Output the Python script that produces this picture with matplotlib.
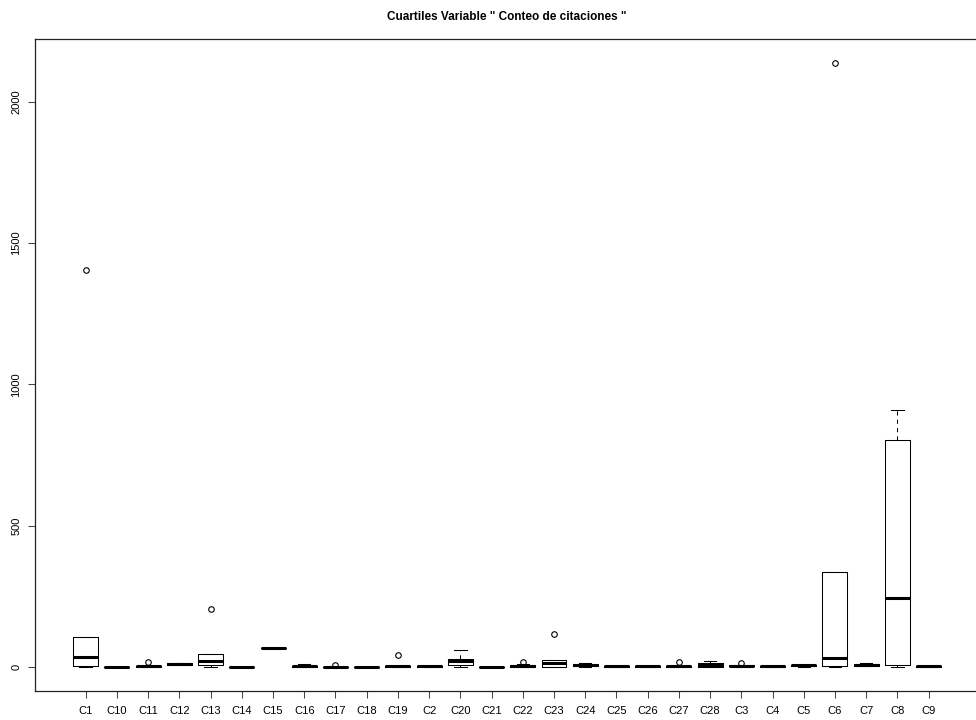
import matplotlib
matplotlib.use("Agg")
import matplotlib.pyplot as plt

plt.rcParams['font.family'] = ['Liberation Sans', 'DejaVu Sans']

grupos = ['C1', 'C10', 'C11', 'C12', 'C13', 'C14', 'C15', 'C16', 'C17', 'C18',
          'C19', 'C2', 'C20', 'C21', 'C22', 'C23', 'C24', 'C25', 'C26', 'C27',
          'C28', 'C3', 'C4', 'C5', 'C6', 'C7', 'C8', 'C9']

# cuartiles por grupo (conteo de citaciones)
whislo = [0, 0, 0, 6, 0, 0, 68, 0, 0, 0, 0, 0, 0, 0, 0, 0, 0, 0, 0, 0, 0, 0, 0, 0, 0, 2, 0, 0]
q1 = [4, 0, 0, 7, 6, 0, 68, 0, 0, 0, 0, 1, 7, 0, 1, 1, 4, 1, 1, 1, 1, 2, 1, 2, 2, 4, 5, 1]
mediana = [35, 0, 2, 9, 22, 0, 68, 2, 0, 0, 2, 2, 19, 0, 4, 13, 7, 2, 2, 2, 5, 4, 2, 5, 33, 7, 243, 2]
q3 = [107, 0, 3, 12, 44, 0, 68, 4, 0, 0, 3, 3, 29, 0, 7, 25, 10, 3, 3, 3, 12, 5, 3, 8, 335, 10, 804, 3]
whishi = [107, 0, 3, 13, 44, 0, 68, 11, 0, 0, 3, 3, 59, 0, 10, 25, 12, 3, 3, 3, 19, 5, 3, 8, 335, 12, 909, 3]
atipicos = [[1405], [], [17], [], [206], [], [], [], [6], [], [41], [], [], [], [16],
            [117], [], [], [], [18], [], [13], [], [], [2137], [], [], []]

stats = []
for i, g in enumerate(grupos):
    stats.append(dict(label=g, whislo=whislo[i], q1=q1[i], med=mediana[i],
                      q3=q3[i], whishi=whishi[i], fliers=atipicos[i]))

fig = plt.figure(figsize=(9.76, 7.2), dpi=100)
ax = fig.add_axes([0.036, 0.0403, 0.9673, 0.9056])

pos = list(range(1, len(grupos) + 1))
ax.bxp(stats, positions=pos, widths=0.8, capwidths=0.4,
       boxprops=dict(color='black', linewidth=0.75),
       medianprops=dict(color='black', linewidth=2.2, solid_capstyle='butt'),
       whiskerprops=dict(color='black', linewidth=0.75, linestyle=(0, (4, 4))),
       capprops=dict(color='black', linewidth=0.75),
       flierprops=dict(marker='o', markerfacecolor='none', markeredgecolor='black',
                       markersize=4, markeredgewidth=0.8, linestyle='none'))

n = len(grupos)
ax.set_xlim(0.5 - 0.04 * n, n + 0.5 + 0.04 * n)
ymax = max(max(a) if a else 0 for a in atipicos)
ax.set_ylim(-0.04 * ymax, ymax * 1.04)

ax.set_xticks(pos)
ax.set_xticklabels(grupos, fontsize=8)
ax.set_yticks([0, 500, 1000, 1500, 2000])
ax.set_yticklabels(['0', '500', '1000', '1500', '2000'], fontsize=8,
                   rotation=90, va='center')
ax.tick_params(length=5, width=0.75, color='#444444')
ax.tick_params(axis='x', pad=6)
ax.tick_params(axis='y', pad=5)
for s in ax.spines.values():
    s.set_linewidth(0.9)
    s.set_color('#222222')

ax.set_title('Cuartiles Variable " Conteo de citaciones "', fontsize=8.5,
             fontweight='bold', pad=14)

fig.savefig('out.png', dpi=100)
